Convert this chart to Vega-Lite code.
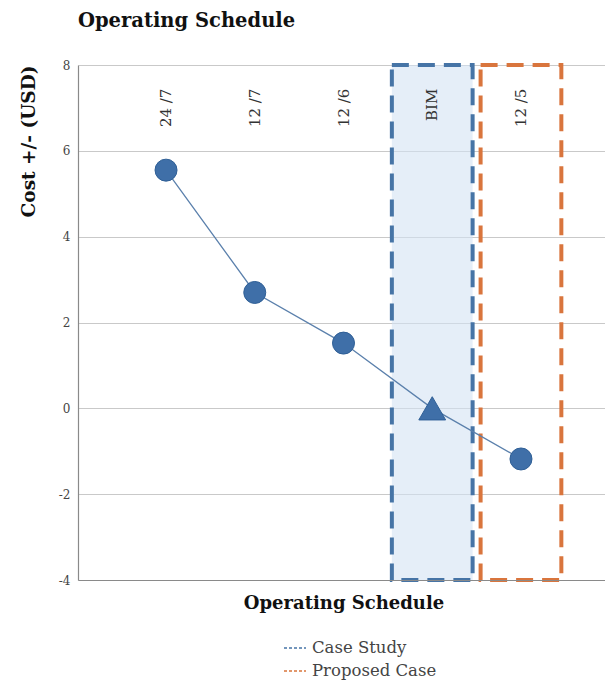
{
  "$schema": "https://vega.github.io/schema/vega-lite/v6.json",
  "autosize": "none",
  "width": 531,
  "height": 515,
  "padding": {"left": 78, "top": 65, "right": 0, "bottom": 101},
  "background": "white",
  "title": {
    "text": "Operating Schedule",
    "anchor": "start",
    "frame": "group",
    "font": "DejaVu Serif",
    "fontSize": 19.5,
    "fontWeight": "bold",
    "color": "#111111",
    "offset": 28
  },
  "config": {
    "view": {"stroke": null},
    "font": "DejaVu Serif"
  },
  "datasets": {
    "costs": [
      {"schedule": "24 /7", "cost": 5.55, "kind": "circle"},
      {"schedule": "12 /7", "cost": 2.7, "kind": "circle"},
      {"schedule": "12 /6", "cost": 1.52, "kind": "circle"},
      {"schedule": "BIM", "cost": 0, "kind": "triangle"},
      {"schedule": "12 /5", "cost": -1.18, "kind": "circle"}
    ],
    "cases": [
      {"schedule": "BIM", "case": "Case Study"},
      {"schedule": "12 /5", "case": "Proposed Case"}
    ]
  },
  "encoding": {
    "x": {
      "field": "schedule",
      "type": "nominal",
      "sort": ["24 /7", "12 /7", "12 /6", "BIM", "12 /5"],
      "scale": {
        "type": "band",
        "domain": ["24 /7", "12 /7", "12 /6", "BIM", "12 /5"],
        "paddingInner": 0.09,
        "paddingOuter": 0.537
      },
      "axis": {
        "title": "Operating Schedule",
        "titleFont": "DejaVu Serif",
        "titleFontSize": 18,
        "titleFontWeight": "bold",
        "titleColor": "#111111",
        "titlePadding": 14,
        "titleAnchor": "middle",
        "labels": false,
        "ticks": false,
        "domainColor": "#8a8a8a",
        "domainWidth": 1.2,
        "grid": false
      }
    }
  },
  "layer": [
    {
      "data": {"name": "cases"},
      "mark": {
        "type": "rect",
        "strokeWidth": 4,
        "strokeDash": [17, 9]
      },
      "encoding": {
        "y": {"datum": 8, "type": "quantitative"},
        "y2": {"datum": -4},
        "fill": {
          "condition": {"test": "datum['case'] === 'Case Study'", "value": "#d3e2f3"},
          "value": "transparent"
        },
        "fillOpacity": {"value": 0.6},
        "stroke": {
          "field": "case",
          "type": "nominal",
          "scale": {
            "domain": ["Case Study", "Proposed Case"],
            "range": ["#4674a6", "#d9753d"]
          },
          "legend": {
            "title": null,
            "orient": "none",
            "legendX": 205,
            "legendY": 571,
            "direction": "vertical",
            "symbolType": "stroke",
            "symbolDash": [3, 2],
            "symbolStrokeWidth": 1.3,
            "symbolSize": 484,
            "symbolFillColor": "transparent",
            "labelFont": "DejaVu Serif",
            "labelFontSize": 16.5,
            "labelColor": "#444444",
            "labelOffset": 5,
            "rowPadding": 2
          }
        }
      }
    },
    {
      "data": {"name": "costs"},
      "mark": {"type": "line", "color": "#5b80ac", "strokeWidth": 1.3},
      "encoding": {
        "y": {
          "field": "cost",
          "type": "quantitative",
          "scale": {"domain": [-4, 8], "nice": false},
          "axis": {
            "title": "Cost +/- (USD)",
            "titleFont": "DejaVu Serif",
            "titleFontSize": 18.5,
            "titleFontWeight": "bold",
            "titleColor": "#111111",
            "titleAnchor": "end",
            "titlePadding": 20,
            "values": [-4, -2, 0, 2, 4, 6, 8],
            "labelExpr": "replace(datum.label, '−', '-')",
            "labelFont": "DejaVu Serif",
            "labelFontSize": 12,
            "labelColor": "#444444",
            "labelPadding": 8,
            "ticks": false,
            "grid": true,
            "gridColor": "#c9c9c9",
            "gridWidth": 1.2,
            "domainColor": "#8a8a8a",
            "domainWidth": 1.2
          }
        }
      }
    },
    {
      "data": {"name": "costs"},
      "mark": {"type": "point", "filled": true, "stroke": "#2f5f96", "strokeWidth": 1, "opacity": 1},
      "encoding": {
        "y": {"field": "cost", "type": "quantitative"},
        "shape": {
          "field": "kind",
          "type": "nominal",
          "scale": {"domain": ["circle", "triangle"], "range": ["circle", "triangle-up"]},
          "legend": null
        },
        "size": {
          "condition": {"test": "datum.kind === 'triangle'", "value": 720},
          "value": 484
        },
        "fill": {"value": "#3f6fa8"}
      }
    },
    {
      "data": {"name": "costs"},
      "mark": {
        "type": "text",
        "angle": 270,
        "align": "right",
        "baseline": "middle",
        "font": "DejaVu Serif",
        "fontSize": 15,
        "color": "#333333"
      },
      "encoding": {
        "y": {"datum": 7.45, "type": "quantitative"},
        "text": {"field": "schedule"}
      }
    }
  ]
}
